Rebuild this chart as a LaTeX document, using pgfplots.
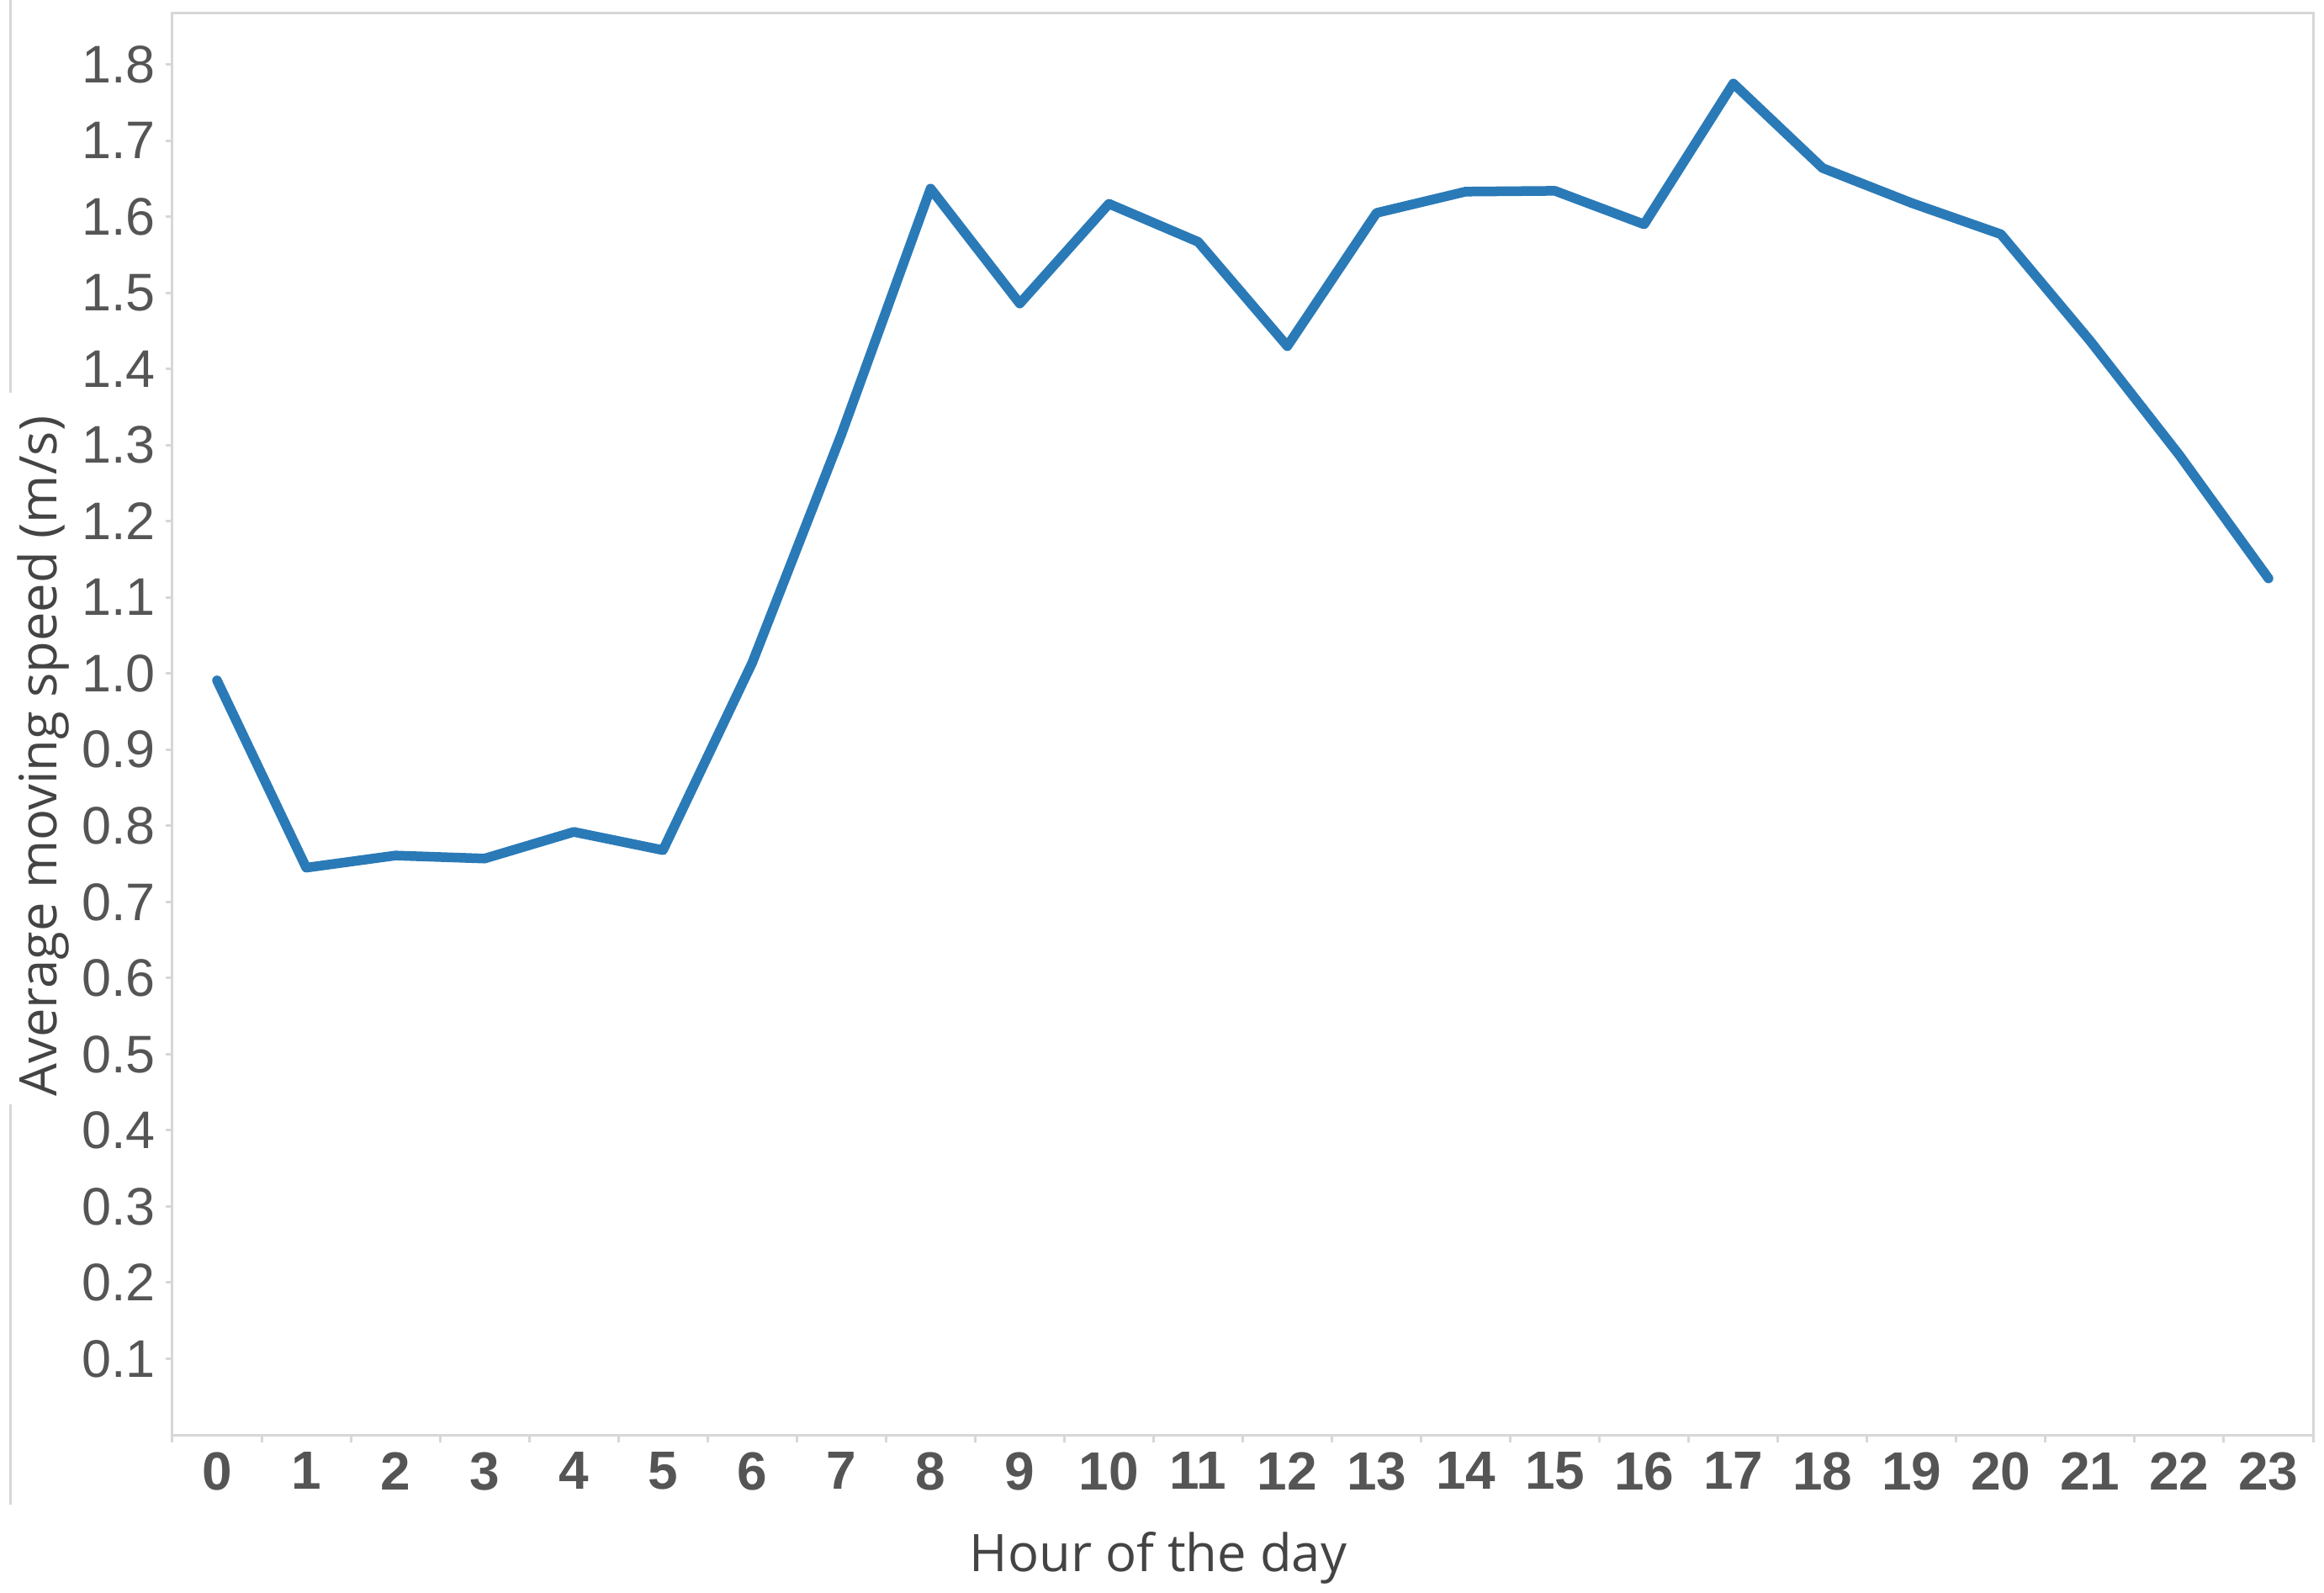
\documentclass[border=0pt]{standalone}
\usepackage{fontspec}
\setmainfont{Liberation Sans}
\newfontfamily\opensans{Open Sans}
\usepackage{pgfplots}
\pgfplotsset{compat=1.18}
\definecolor{linec}{RGB}{42,122,183}
\definecolor{tickc}{RGB}{85,85,85}
\definecolor{labc}{RGB}{68,68,68}
\definecolor{framec}{RGB}{215,215,215}
\begin{document}
\begin{tikzpicture}
\useasboundingbox (0,0) rectangle (276.3mm,189.3mm);
\draw[framec, line width=0.3mm] (1.2mm,189.3mm) -- (1.2mm,142.6mm);
\draw[framec, line width=0.3mm] (1.2mm,58mm) -- (1.2mm,10.4mm);
\begin{axis}[
  at={(20.5mm,18.7mm)}, anchor=south west,
  scale only axis, width=254.5mm, height=169mm,
  xmin=-0.5, xmax=23.5, ymin=0, ymax=1.867,
  xtick={0,...,23},
  minor xtick={-0.5,0.5,...,23.5},
  ytick={0.1,0.2,0.3,0.4,0.5,0.6,0.7,0.8,0.9,1.0,1.1,1.2,1.3,1.4,1.5,1.6,1.7,1.8},
  xtick pos=bottom, ytick pos=left,
  major x tick style={draw=none},
  tick align=outside,
  major tick length=0.8mm, minor tick length=0.9mm,
  tick style={framec, line width=0.3mm},
  axis line style={framec, line width=0.3mm},
  /pgf/number format/assume math mode=true,
  yticklabel style={font=\fontsize{17.9}{20}\selectfont, text=tickc,
    /pgf/number format/fixed, /pgf/number format/fixed zerofill,
    /pgf/number format/precision=1},
  xticklabel style={font=\fontsize{18.2}{20}\selectfont\bfseries, text=tickc},
  xlabel={Hour of the day},
  ylabel={Average moving speed (m/s)},
  xlabel style={font=\opensans\fontsize{17.5}{20}\selectfont, text=labc,
    at={(axis description cs:0.4605,-0.0959)}, anchor=base},
  ylabel style={font=\opensans\fontsize{17.5}{20}\selectfont, text=labc,
    at={(axis description cs:-0.0542,0.4775)}, anchor=base},
  clip=false,
]
\addplot[color=linec, line width=1.15mm, line join=round, line cap=round] coordinates {
(0,0.991) (1,0.745) (2,0.761) (3,0.757) (4,0.792) (5,0.768)
(6,1.014) (7,1.314) (8,1.637) (9,1.486) (10,1.617) (11,1.567)
(12,1.430) (13,1.605) (14,1.633) (15,1.634) (16,1.590) (17,1.775)
(18,1.664) (19,1.618) (20,1.577) (21,1.437) (22,1.287) (23,1.125)
};
\end{axis}
\end{tikzpicture}
\end{document}
